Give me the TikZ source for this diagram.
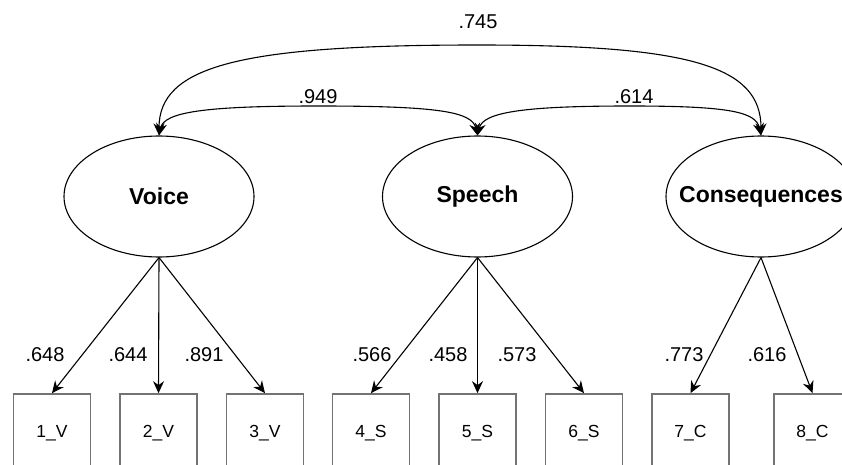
\documentclass[tikz,border=0pt]{standalone}
\usepackage{fontspec}
\setmainfont{Liberation Sans}
\usetikzlibrary{shapes.geometric,arrows.meta}
\begin{document}
\begin{tikzpicture}[x=1pt,y=-1pt,
  latent/.style={ellipse,draw=black,line width=1.1pt,minimum width=190pt,minimum height=121pt,inner sep=0pt},
  latname/.style={font=\fontsize{23}{26}\selectfont\bfseries},
  indicator/.style={rectangle,draw=black!55,line width=1.7pt,minimum width=77pt,minimum height=78pt,inner sep=0pt,font=\fontsize{17.5}{20}\selectfont},
  coef/.style={font=\fontsize{20}{23}\selectfont,inner sep=0pt},
  conn/.style={line width=1.1pt,-{Stealth[length=12pt,width=11pt,inset=4pt]}},
  biconn/.style={line width=1.1pt,{Stealth[length=12pt,width=11pt,inset=4pt]}-{Stealth[length=12pt,width=11pt,inset=4pt]}}]
\useasboundingbox (0,0) rectangle (842,465);
\clip (0,0) rectangle (842,465);

% latent factors
\node[latent,label={[latname]center:Voice}] (V) at (159,196.5) {};
\node[latent,label={[latname]center:Speech}] (S) at (477.5,196.5) {};
\node[latent,label={[latname]center:Consequences}] (C) at (761,196.5) {};

% observed indicators
\node[indicator] (i1) at (52,433) {1\_V};
\node[indicator] (i2) at (158.5,433) {2\_V};
\node[indicator] (i3) at (265,433) {3\_V};
\node[indicator] (i4) at (371,433) {4\_S};
\node[indicator] (i5) at (477.5,433) {5\_S};
\node[indicator] (i6) at (584,433) {6\_S};
\node[indicator] (i7) at (690.5,433) {7\_C};
\node[indicator] (i8) at (812.5,433) {8\_C};

% loadings
\draw[conn] (V.south) -- (i1.north);
\draw[conn] (V.south) -- (i2.north);
\draw[conn] (V.south) -- (i3.north);
\draw[conn] (S.south) -- (i4.north);
\draw[conn] (S.south) -- (i5.north);
\draw[conn] (S.south) -- (i6.north);
\draw[conn] (C.south) -- (i7.north);
\draw[conn] (C.south) -- (i8.north);

\node[coef] (l1) at (45,355) {.648};
\node[coef] (l2) at (128,355) {.644};
\node[coef] (l3) at (204,355) {.891};
\node[coef] (l4) at (372,355) {.566};
\node[coef] (l5) at (448,355) {.458};
\node[coef] (l6) at (517,355) {.573};
\node[coef] (l7) at (684,355) {.773};
\node[coef] (l8) at (767,355) {.616};

% factor correlations
\draw[biconn] (V.north) .. controls (159,66) and (240,45) .. (478,45)
                        .. controls (690,45) and (761,66) .. (C.north);
\draw[biconn] (V.north) .. controls (164,112) and (205,106) .. (318,106)
                        .. controls (440,106) and (472,112) .. (S.north);
\draw[biconn] (S.north) .. controls (483,112) and (525,106) .. (630,106)
                        .. controls (730,106) and (756,112) .. (C.north);

\node[coef] (r1) at (478,22) {.745};
\node[coef] (r2) at (318,97) {.949};
\node[coef] (r3) at (634,97) {.614};
\end{tikzpicture}
\end{document}
